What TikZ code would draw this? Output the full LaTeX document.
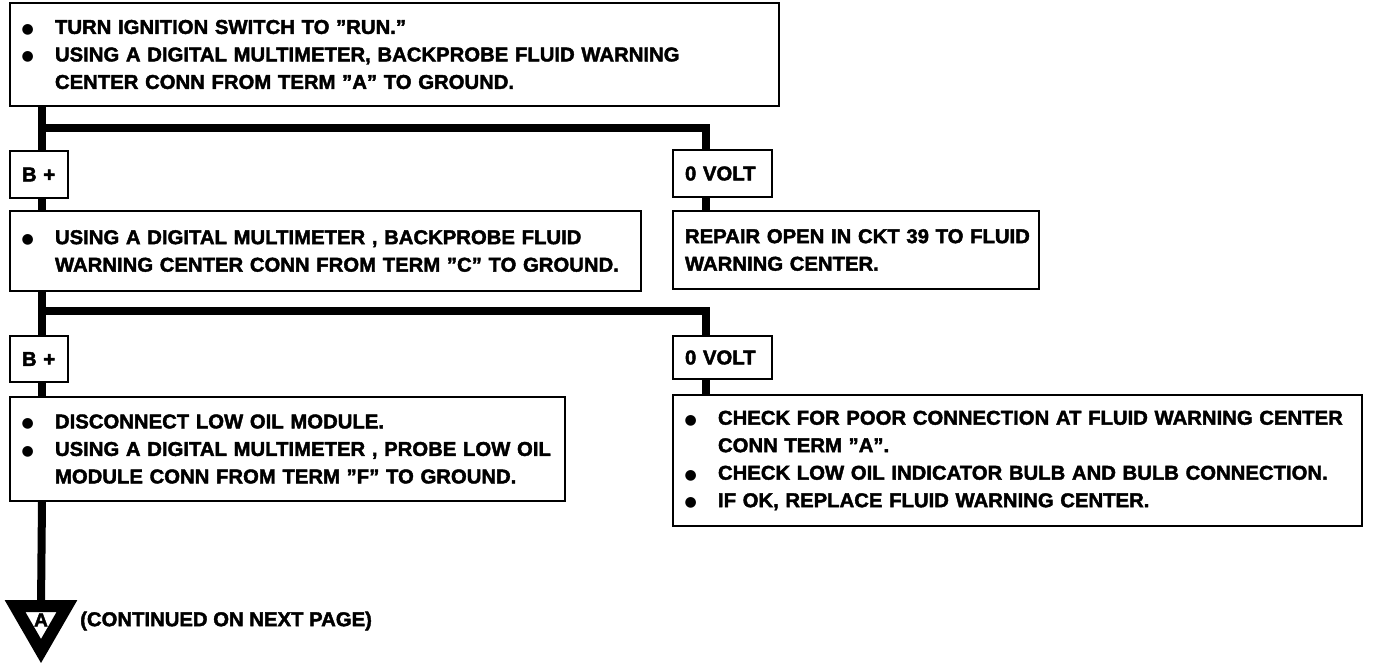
\documentclass[tikz,border=0pt]{standalone}
\usepackage{fontspec}
\setmainfont{Liberation Sans}[FakeStretch=1.015,BoldFeatures={FakeBold=2}]
\newfontfamily\dejavu{DejaVu Sans}
\usetikzlibrary{shapes.geometric}
\newcommand{\bul}{\makebox[33pt][l]{\hspace{-0.5pt}\raisebox{0.5pt}{\dejavu\mdseries\fontsize{14}{14}\selectfont ●}}}
\newcommand{\ind}{\hspace*{33pt}}
\newcommand{\bl}[1]{\mbox{\bul #1}}
\newcommand{\cl}[1]{\mbox{\ind #1}}
\newcommand{\pl}[1]{\mbox{#1}}
\begin{document}
\begin{tikzpicture}[x=1pt,y=-1pt,
  box/.style={draw,line width=2.5pt,inner xsep=12pt,inner ysep=0pt,outer sep=0pt,
    anchor=north west,align=left,font=\fontsize{20}{27.5}\selectfont\bfseries},
  conn/.style={line width=8pt,line join=miter},
  lbl/.style={font=\fontsize{20}{24}\selectfont\bfseries,inner sep=0pt}]
\useasboundingbox[fill=white] (0,0) rectangle (1376,662);

\node[box,text width=745,minimum height=103] (b1) at (10,3)
  {\bl{TURN IGNITION SWITCH TO ”RUN.”}\\
   \bl{USING A DIGITAL MULTIMETER, BACKPROBE FLUID WARNING}\\
   \cl{CENTER CONN FROM TERM ”A” TO GROUND.}};
\node[box,text width=34,minimum height=47] (bp1) at (10,151) {\pl{B +}};
\node[box,text width=75,minimum height=47] (v1) at (673,150) {\pl{0 VOLT}};
\node[box,text width=607,minimum height=80] (b2) at (10,211)
  {\bl{USING A DIGITAL MULTIMETER , BACKPROBE FLUID}\\
   \cl{WARNING CENTER CONN FROM TERM ”C” TO GROUND.}};
\node[box,text width=342,minimum height=78] (r1) at (673,211)
  {\pl{REPAIR OPEN IN CKT 39 TO FLUID}\\\pl{WARNING CENTER.}};
\node[box,text width=34,minimum height=46] (bp2) at (10,336) {\pl{B +}};
\node[box,text width=75,minimum height=43] (v2) at (673,336) {\pl{0 VOLT}};
\node[box,text width=531,minimum height=104] (b3) at (10,397)
  {\bl{DISCONNECT LOW OIL MODULE.}\\
   \bl{USING A DIGITAL MULTIMETER , PROBE LOW OIL}\\
   \cl{MODULE CONN FROM TERM ”F” TO GROUND.}};
\node[box,text width=665,minimum height=131] (r2) at (673,395)
  {\bl{CHECK FOR POOR CONNECTION AT FLUID WARNING CENTER}\\
   \cl{CONN TERM ”A”.}\\
   \bl{CHECK LOW OIL INDICATOR BULB AND BULB CONNECTION.}\\
   \bl{IF OK, REPLACE FLUID WARNING CENTER.}};
\node[draw,regular polygon,regular polygon sides=3,shape border rotate=180,
  minimum size=60,inner sep=0pt,outer sep=0pt,line width=12pt,
  font=\fontsize{19}{19}\selectfont\bfseries] (tri) at (41,621) {\raisebox{2pt}{A}};
\node[lbl,anchor=west] (cont) at (80,621) {(CONTINUED ON NEXT PAGE)};

\draw[conn] ([xshift=32pt]b1.south west) -- ([xshift=32pt]bp1.north west);
\draw[conn] ([xshift=32pt,yshift=-22pt]b1.south west) -| ([xshift=33pt]v1.north west);
\draw[conn] ([xshift=33pt]v1.south west) -- ([xshift=33pt]r1.north west);
\draw[conn] ([xshift=32pt]bp1.south west) -- ([xshift=32pt]b2.north west);
\draw[conn] ([xshift=32pt]b2.south west) -- ([xshift=32pt]bp2.north west);
\draw[conn] ([xshift=32pt,yshift=-20pt]b2.south west) -| ([xshift=33pt]v2.north west);
\draw[conn] ([xshift=33pt]v2.south west) -- ([xshift=33pt]r2.north west);
\draw[conn] ([xshift=32pt]bp2.south west) -- ([xshift=32pt]b3.north west);
\draw[conn] ([xshift=32pt]b3.south west) -- (tri.north);
\end{tikzpicture}
\end{document}
